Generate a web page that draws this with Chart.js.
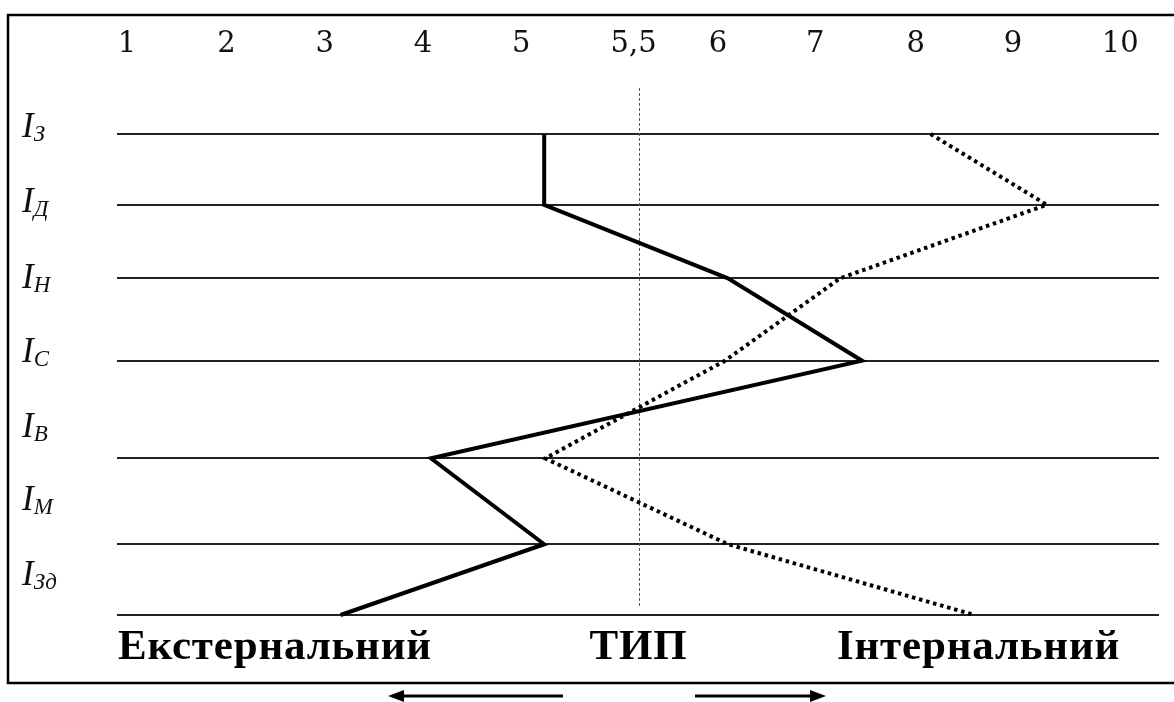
<!DOCTYPE html>
<html>
<head>
<meta charset="utf-8">
<script src="https://cdn.jsdelivr.net/npm/chart.js@4.4.1/dist/chart.umd.min.js"></script>
<style>
  html, body { margin: 0; padding: 0; background: #fff; }
  #wrap { width: 1174px; height: 702px; position: relative; }
</style>
</head>
<body>
<div id="wrap"><canvas id="c"></canvas></div>
<script>
// ---- data (x in axis slot units, the "5,5" label occupies its own slot) ----
const tickLabels = ["1", "2", "3", "4", "5", "5,5", "6", "7", "8", "9", "10"];
const tickValues = [1, 2.0, 2.99, 3.98, 4.97, 6.1, 6.95, 7.93, 8.94, 9.92, 11.0];
const typeValue = 6.15;               // the dashed "ТИП" divider (5,5)
const rowNames = ["З", "Д", "Н", "С", "В", "М", "Зд"];
const rowLevels = [0, 1.03, 2.1, 3.3, 4.72, 5.97, 7];       // horizontal lines
const rowLabelLevels = [0.04, 1.13, 2.24, 3.32, 4.41, 5.47, 6.56];
const solidValues = [5.2, 5.2, 7.05, 8.4, 4.06, 5.2, 3.15];
const dottedValues = [9.09, 10.26, 8.18, 7.02, 5.21, 7.05, 9.53];
const bottomLabels = ["Екстернальний", "ТИП", "Інтернальний"];

const toPoints = vals => vals.map((v, i) => ({ x: v, y: rowLevels[i] }));

const decor = {
  id: 'decor',
  beforeDatasetsDraw(chart) {
    const ctx = chart.ctx, xs = chart.scales.x, ys = chart.scales.y;
    ctx.save();
    ctx.strokeStyle = '#555';
    ctx.lineWidth = 1;
    ctx.setLineDash([3, 2]);
    const dx = Math.round(xs.getPixelForValue(typeValue)) + 0.5;
    ctx.beginPath();
    ctx.moveTo(dx, ys.getPixelForValue(-0.67));
    ctx.lineTo(dx, ys.getPixelForValue(6.88));
    ctx.stroke();
    ctx.restore();
  },
  afterDraw(chart) {
    const ctx = chart.ctx, xs = chart.scales.x, ys = chart.scales.y;
    const area = chart.chartArea;
    ctx.save();
    // outer box
    ctx.strokeStyle = '#000';
    ctx.lineWidth = 2.5;
    ctx.strokeRect(8, 15, 1180, 668);

    // top tick labels
    ctx.fillStyle = '#111';
    ctx.font = '29px "DejaVu Serif", serif';
    ctx.textAlign = 'center';
    ctx.textBaseline = 'alphabetic';
    tickValues.forEach((v, i) => {
      ctx.fillText(tickLabels[i], xs.getPixelForValue(v), 52);
    });

    // left row labels I with subscript
    rowNames.forEach((n, i) => {
      const by = ys.getPixelForValue(rowLabelLevels[i]);
      ctx.textAlign = 'left';
      ctx.font = 'italic 35px "Liberation Serif", serif';
      ctx.fillText('I', 22, by);
      const w = ctx.measureText('I').width;
      ctx.font = 'italic 23px "Liberation Serif", serif';
      ctx.fillText(n, 22 + w, by + 4);
    });

    // bottom labels
    ctx.font = 'bold 43px "Liberation Serif", serif';
    ctx.fillStyle = '#000';
    if ('letterSpacing' in ctx) ctx.letterSpacing = '0.8px';
    ctx.textAlign = 'left';
    ctx.fillText(bottomLabels[0], area.left + 1, 659);
    ctx.textAlign = 'center';
    ctx.fillText(bottomLabels[1], xs.getPixelForValue(typeValue), 659);
    ctx.textAlign = 'left';
    ctx.fillText(bottomLabels[2], 837, 659);
    if ('letterSpacing' in ctx) ctx.letterSpacing = '0px';

    // arrows
    ctx.strokeStyle = '#000';
    ctx.fillStyle = '#000';
    ctx.lineWidth = 3;
    const ay = 696;
    ctx.beginPath(); ctx.moveTo(563, ay); ctx.lineTo(400, ay); ctx.stroke();
    ctx.beginPath(); ctx.moveTo(388, ay); ctx.lineTo(404, ay - 6); ctx.lineTo(404, ay + 6); ctx.closePath(); ctx.fill();
    ctx.beginPath(); ctx.moveTo(695, ay); ctx.lineTo(812, ay); ctx.stroke();
    ctx.beginPath(); ctx.moveTo(826, ay); ctx.lineTo(810, ay - 6); ctx.lineTo(810, ay + 6); ctx.closePath(); ctx.fill();
    ctx.restore();
  }
};

new Chart(document.getElementById('c'), {
  type: 'line',
  data: {
    datasets: [
      {
        label: 'solid',
        data: toPoints(solidValues),
        borderColor: '#000',
        borderWidth: 4,
        pointRadius: 0,
        tension: 0,
        borderJoinStyle: 'miter',
        clip: false
      },
      {
        label: 'dotted',
        data: toPoints(dottedValues),
        borderColor: '#000',
        borderWidth: 4,
        borderDash: [3.5, 3.8],
        borderCapStyle: 'butt',
        pointRadius: 0,
        tension: 0,
        clip: false
      }
    ]
  },
  options: {
    responsive: true,
    maintainAspectRatio: false,
    animation: false,
    events: [],
    layout: { padding: { left: 117, right: 15, top: 134, bottom: 87 } },
    plugins: { legend: { display: false }, tooltip: { enabled: false } },
    scales: {
      x: {
        type: 'linear',
        min: 0.899, max: 11.39,
        grid: { display: false, drawTicks: false },
        border: { display: false },
        ticks: { display: false },
        afterBuildTicks: s => { s.ticks = tickValues.map(v => ({ value: v })); }
      },
      y: {
        type: 'linear',
        reverse: true,
        min: 0, max: 7,
        grid: { color: '#222', lineWidth: 2, drawTicks: false },
        border: { display: false },
        ticks: { display: false },
        afterBuildTicks: s => { s.ticks = rowLevels.map(v => ({ value: v })); }
      }
    }
  },
  plugins: [decor]
});
</script>
</body>
</html>
